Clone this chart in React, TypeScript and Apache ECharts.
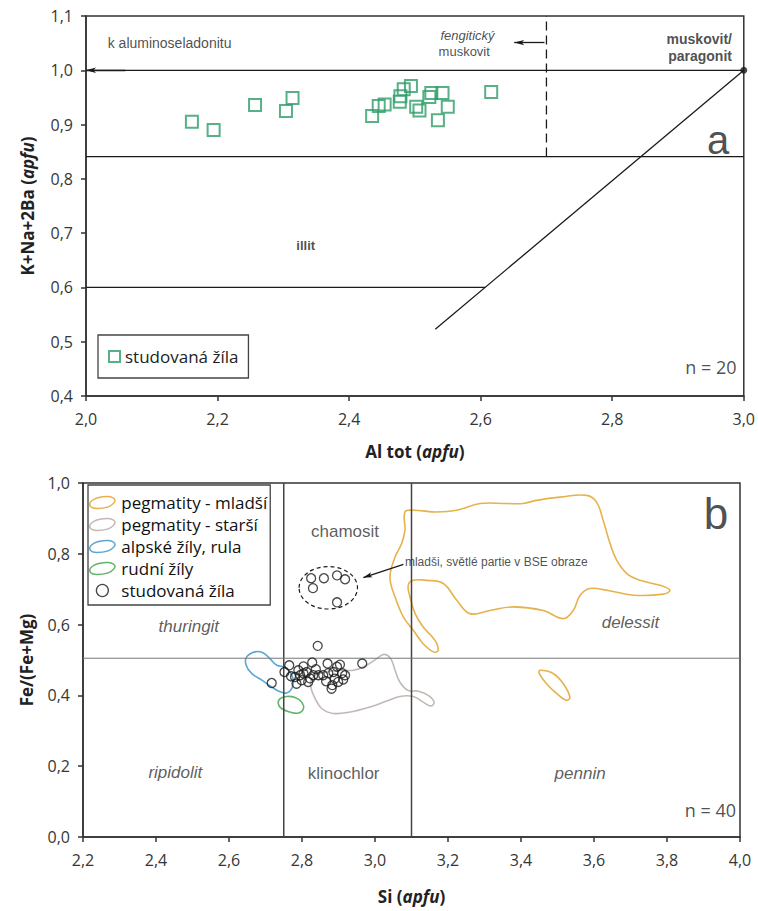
import React, { useEffect, useRef } from 'react';
import * as echarts from 'echarts';

// ---------- Panel a: K+Na+2Ba vs Al tot (white mica) ----------
const alTot = [2.161, 2.194, 2.257, 2.304, 2.314, 2.435, 2.445, 2.454, 2.478, 2.483, 2.494, 2.477, 2.502, 2.507, 2.522, 2.525, 2.542, 2.55, 2.535, 2.616];
const kNa2Ba = [0.905, 0.89, 0.936, 0.925, 0.949, 0.916, 0.934, 0.937, 0.952, 0.965, 0.971, 0.942, 0.933, 0.926, 0.951, 0.958, 0.958, 0.933, 0.908, 0.96];

// ---------- Panel b: Fe/(Fe+Mg) vs Si (chlorite) ----------
const siVein = [
  2.825, 2.83, 2.86, 2.896, 2.918, 2.896,
  2.843, 2.717, 2.752, 2.765, 2.804, 2.828, 2.87, 2.904, 2.965, 2.781, 2.785, 2.804, 2.817, 2.813,
  2.831, 2.845, 2.858, 2.872, 2.886, 2.89, 2.883, 2.899, 2.91, 2.913, 2.881, 2.799, 2.79, 2.77,
  2.822, 2.896, 2.918, 2.838, 2.866, 2.795,
];
const feVein = [
  0.731, 0.703, 0.731, 0.739, 0.728, 0.663,
  0.54, 0.435, 0.466, 0.485, 0.482, 0.493, 0.49, 0.487, 0.49, 0.452, 0.433, 0.462, 0.438, 0.466,
  0.457, 0.457, 0.457, 0.463, 0.466, 0.447, 0.429, 0.438, 0.463, 0.445, 0.419, 0.443, 0.471, 0.454,
  0.448, 0.481, 0.457, 0.474, 0.44, 0.457,
];

const pegYoungMain: number[][] = [
  [3.082, 0.918], [3.105, 0.923], [3.169, 0.918], [3.224, 0.923], [3.288, 0.942], [3.361, 0.942],
  [3.405, 0.942], [3.443, 0.951], [3.507, 0.96], [3.58, 0.965], [3.607, 0.946], [3.625, 0.895],
  [3.644, 0.829], [3.662, 0.782], [3.69, 0.744], [3.726, 0.725], [3.781, 0.711], [3.808, 0.697],
  [3.79, 0.686], [3.708, 0.683], [3.635, 0.697], [3.589, 0.702], [3.562, 0.683], [3.543, 0.64],
  [3.516, 0.617], [3.461, 0.64], [3.379, 0.65], [3.315, 0.64], [3.26, 0.631], [3.224, 0.669],
  [3.187, 0.716], [3.142, 0.725], [3.105, 0.725], [3.091, 0.711], [3.096, 0.678], [3.11, 0.631],
  [3.132, 0.593], [3.164, 0.556], [3.173, 0.527], [3.16, 0.523], [3.132, 0.546], [3.105, 0.584],
  [3.078, 0.621], [3.055, 0.678], [3.041, 0.734], [3.055, 0.791], [3.073, 0.829], [3.082, 0.866],
];
const pegYoungSmall: number[][] = [
  [3.452, 0.471], [3.488, 0.462], [3.516, 0.433], [3.534, 0.395], [3.525, 0.386], [3.498, 0.405],
  [3.47, 0.433], [3.45, 0.462],
];
const pegOld: number[][] = [
  [2.827, 0.447], [2.849, 0.462], [2.904, 0.471], [2.941, 0.471], [2.977, 0.485], [3.005, 0.504],
  [3.025, 0.516], [3.043, 0.504], [3.055, 0.471], [3.068, 0.438], [3.091, 0.414], [3.119, 0.412],
  [3.146, 0.4], [3.162, 0.381], [3.153, 0.37], [3.132, 0.381], [3.105, 0.397], [3.068, 0.397],
  [3.032, 0.384], [2.986, 0.367], [2.932, 0.353], [2.886, 0.349], [2.854, 0.363], [2.836, 0.391],
  [2.824, 0.424],
];
const alpine: number[][] = [
  [2.648, 0.508], [2.671, 0.523], [2.694, 0.52], [2.712, 0.504], [2.731, 0.485], [2.753, 0.48],
  [2.767, 0.466], [2.776, 0.443], [2.772, 0.419], [2.758, 0.407], [2.74, 0.41], [2.717, 0.424],
  [2.69, 0.443], [2.662, 0.462], [2.647, 0.485],
];
const oreVeins: number[][] = [
  [2.74, 0.391], [2.758, 0.397], [2.781, 0.394], [2.799, 0.381], [2.804, 0.363], [2.79, 0.35],
  [2.767, 0.353], [2.744, 0.363], [2.735, 0.377],
];
// dashed ellipse: centre x, centre y, half-width, half-height (data units)
const youngEllipse = [[2.872, 0.704, 0.08, 0.06]];

const GREEN = '#2e9c68';
const ORANGE = '#e6b24c';
const GRAY = '#c2b9b5';
const BLUE = '#5ba6d4';
const LGREEN = '#62b567';
const INK = '#1a1a1a';

const TICK_FONT = '"Open Sans", "Noto Sans", sans-serif';
const NOTE_FONT = '"Liberation Sans", Arial, sans-serif';

const fmt = (v: number) => v.toFixed(1).replace('.', ',');

const ELLIPSE_ICON = 'path://M3,11 C0,7 6,2 16,1 C25,0 30,3 27,7 C24,11 16,13 9,13 C6,13 4,12 3,11 Z';

function axisBase(gridIndex: number, labelMargin: number) {
  return {
    gridIndex,
    type: 'value',
    axisLine: { show: true, onZero: false, lineStyle: { color: '#333', width: 1.5 } },
    axisTick: { show: true, inside: false, length: 5, lineStyle: { color: '#333', width: 1.5 } },
    axisLabel: { formatter: fmt, fontSize: 16, color: '#363636', fontFamily: TICK_FONT, margin: labelMargin },
    splitLine: { show: false },
    nameLocation: 'middle',
    nameTextStyle: {
      rich: {
        b: { fontWeight: 'bold', fontSize: 17, fontFamily: TICK_FONT, color: '#222' },
        i: { fontWeight: 'bold', fontStyle: 'italic', fontSize: 17, fontFamily: TICK_FONT, color: '#222' },
      },
    },
  };
}

function seg(name: string, xi: number, pts: number[][], extra: any = {}) {
  return {
    type: 'line',
    name,
    xAxisIndex: xi,
    yAxisIndex: xi,
    data: pts,
    symbol: 'none',
    silent: true,
    lineStyle: { color: INK, width: 1.3, ...(extra.lineStyle || {}) },
    ...(extra.markLine ? { markLine: extra.markLine } : {}),
    z: 3,
  };
}

function arrowML(pairs: number[][][], size = 10) {
  return {
    silent: true,
    symbol: ['none', 'arrow'],
    symbolSize: [4, size],
    label: { show: false },
    lineStyle: { color: INK, width: 1.3, type: 'solid' },
    emphasis: { disabled: true },
    data: pairs.map((p) => [{ coord: p[0] }, { coord: p[1] }]),
  };
}

function contour(name: string, pts: number[][], color: string) {
  return {
    type: 'custom',
    name,
    xAxisIndex: 1,
    yAxisIndex: 1,
    silent: true,
    data: pts,
    itemStyle: { color },
    renderItem: (params: any, api: any) => {
      if (params.dataIndex !== 0) return null;
      const points = pts.map((p) => api.coord(p));
      return {
        type: 'polygon',
        shape: { points, smooth: 0.4 },
        style: { fill: 'none', stroke: color, lineWidth: 1.6 },
      };
    },
    z: 2,
  };
}

function note(x: number, y: number, text: string, style: any) {
  return {
    value: [x, y],
    label: {
      show: true,
      position: 'inside',
      formatter: text,
      fontFamily: NOTE_FONT,
      color: '#222',
      fontSize: 14,
      align: 'center',
      verticalAlign: 'middle',
      ...style,
    },
  };
}

function notes(xi: number, items: any[]) {
  return {
    type: 'scatter',
    name: 'notes' + xi,
    xAxisIndex: xi,
    yAxisIndex: xi,
    symbol: 'circle',
    symbolSize: 1,
    itemStyle: { color: 'rgba(0,0,0,0)' },
    silent: true,
    clip: false,
    data: items,
    z: 4,
  };
}

function buildOption() {
  const topPts = alTot.map((x, i) => [x, kNa2Ba[i]]);
  const botPts = siVein.map((x, i) => [x, feVein[i]]);
  return {
    animation: false,
    backgroundColor: '#fff',
    grid: [
      { left: 86, top: 16, width: 659, height: 380, show: true, borderColor: '#333', borderWidth: 1.5 },
      { left: 83, top: 483, width: 657, height: 354, show: true, borderColor: '#333', borderWidth: 1.5 },
    ],
    xAxis: [
      { ...axisBase(0, 15), min: 2.0, max: 3.0, interval: 0.2, name: '{b|Al tot (}{i|apfu}{b|)}', nameGap: 47 },
      { ...axisBase(1, 15), min: 2.2, max: 4.0, interval: 0.2, name: '{b|Si (}{i|apfu}{b|)}', nameGap: 51 },
    ],
    yAxis: [
      { ...axisBase(0, 13), min: 0.4, max: 1.1, interval: 0.1, name: '{b|K+Na+2Ba (}{i|apfu}{b|)}', nameGap: 50 },
      { ...axisBase(1, 13), min: 0.0, max: 1.0, interval: 0.2, name: '{b|Fe/(Fe+Mg)}', nameGap: 48 },
    ],
    legend: [
      {
        left: 98,
        top: 335,
        orient: 'vertical',
        selectedMode: false,
        backgroundColor: '#fff',
        borderColor: '#444',
        borderWidth: 1.3,
        padding: [13, 10, 13, 10],
        itemWidth: 11,
        itemHeight: 11,
        textStyle: { fontSize: 17, fontFamily: TICK_FONT, color: '#222' },
        data: [
          { name: 'studovaná žíla', icon: 'rect', itemStyle: { color: 'rgba(0,0,0,0)', borderColor: GREEN, borderWidth: 2 } },
        ],
      },
      {
        left: 88,
        top: 485,
        orient: 'vertical',
        selectedMode: false,
        backgroundColor: '#fff',
        borderColor: '#444',
        borderWidth: 1.3,
        padding: [9, 3, 6, 1],
        itemGap: 5,
        itemWidth: 28,
        itemHeight: 12,
        textStyle: { fontSize: 17, fontFamily: TICK_FONT, color: '#111' },
        data: [
          { name: 'pegmatity - mladší', icon: ELLIPSE_ICON, itemStyle: { color: 'rgba(0,0,0,0)', borderColor: ORANGE, borderWidth: 1.5 } },
          { name: 'pegmatity - starší', icon: ELLIPSE_ICON, itemStyle: { color: 'rgba(0,0,0,0)', borderColor: GRAY, borderWidth: 1.5 } },
          { name: 'alpské žíly, rula', icon: ELLIPSE_ICON, itemStyle: { color: 'rgba(0,0,0,0)', borderColor: BLUE, borderWidth: 1.5 } },
          { name: 'rudní žíly', icon: ELLIPSE_ICON, itemStyle: { color: 'rgba(0,0,0,0)', borderColor: LGREEN, borderWidth: 1.5 } },
          { name: 'studovaná žíla', icon: 'circle', itemStyle: { color: 'rgba(0,0,0,0)', borderColor: INK, borderWidth: 1.3 } },
        ],
      },
    ],
    series: [
      // ---- panel a guides
      seg('line10', 0, [[2.0, 1.0], [3.0, 1.0]], { markLine: arrowML([[[2.06, 1.0], [2.0, 1.0]], [[2.697, 1.051], [2.651, 1.051]]], 10) }),
      seg('line084', 0, [[2.0, 0.841], [3.0, 0.841]]),
      seg('line06', 0, [[2.0, 0.6], [2.607, 0.6]]),
      seg('diag', 0, [[2.531, 0.523], [3.0, 1.0]]),
      seg('fengit', 0, [[2.7, 0.841], [2.7, 1.1]], { lineStyle: { type: [9, 5], width: 1.3 } }),
      {
        type: 'scatter', name: 'endpoint', xAxisIndex: 0, yAxisIndex: 0, clip: false, silent: true,
        data: [[3.0, 1.0]], symbol: 'circle', symbolSize: 7, itemStyle: { color: INK }, z: 5,
      },
      {
        type: 'scatter', name: 'studovaná žíla', xAxisIndex: 0, yAxisIndex: 0, data: topPts,
        symbol: 'rect', symbolSize: 12,
        itemStyle: { color: 'rgba(0,0,0,0)', borderColor: GREEN, borderWidth: 2 }, z: 6,
      },
      notes(0, [
        note(2.033, 1.05, 'k aluminoseladonitu', { align: 'left', fontSize: 14 }),
        note(2.58, 1.065, 'fengitický', { fontStyle: 'italic', fontSize: 13 }),
        note(2.575, 1.034, 'muskovit', { fontSize: 13 }),
        note(2.982, 1.058, 'muskovit/', { align: 'right', fontWeight: 'bold', fontSize: 14 }),
        note(2.982, 1.026, 'paragonit', { align: 'right', fontWeight: 'bold', fontSize: 14 }),
        note(2.334, 0.678, 'illit', { fontWeight: 'bold', fontSize: 13 }),
        note(2.961, 0.872, 'a', { fontSize: 40, color: '#222' }),
        note(2.989, 0.453, 'n = 20', { align: 'right', fontSize: 18, fontFamily: TICK_FONT }),
      ]),
      // ---- panel b guides
      seg('v275', 1, [[2.75, 0.0], [2.75, 1.0]], { lineStyle: { color: '#444', width: 1.5 } }),
      seg('v31', 1, [[3.1, 0.0], [3.1, 1.0]], { lineStyle: { color: '#444', width: 1.5 } }),
      seg('h05', 1, [[2.2, 0.505], [4.0, 0.505]], {
        lineStyle: { color: '#777', width: 1 },
        markLine: arrowML([[[3.078, 0.77], [2.968, 0.733]]], 9),
      }),
      contour('pegmatity - mladší', pegYoungMain, ORANGE),
      contour('pegmatity - mladší', pegYoungSmall, ORANGE),
      contour('pegmatity - starší', pegOld, GRAY),
      contour('alpské žíly, rula', alpine, BLUE),
      contour('rudní žíly', oreVeins, LGREEN),
      {
        type: 'custom', name: 'ellipse', xAxisIndex: 1, yAxisIndex: 1, silent: true, data: youngEllipse,
        renderItem: (params: any, api: any) => {
          const c = api.coord([api.value(0), api.value(1)]);
          const s = api.size([api.value(2), api.value(3)]);
          return {
            type: 'ellipse',
            shape: { cx: c[0], cy: c[1], rx: s[0], ry: s[1] },
            style: { fill: 'none', stroke: INK, lineWidth: 1.2, lineDash: [4, 3] },
          };
        },
        z: 3,
      },
      {
        type: 'scatter', name: 'studovaná žíla', xAxisIndex: 1, yAxisIndex: 1, data: botPts,
        symbol: 'circle', symbolSize: 9,
        itemStyle: { color: 'rgba(0,0,0,0)', borderColor: INK, borderWidth: 1.3 }, z: 6,
      },
      notes(1, [
        note(2.918, 0.864, 'chamosit', { fontSize: 17, color: '#333' }),
        note(2.49, 0.595, 'thuringit', { fontSize: 17, fontStyle: 'italic', color: '#333' }),
        note(3.7, 0.607, 'delessit', { fontSize: 17, fontStyle: 'italic', color: '#333' }),
        note(2.453, 0.181, 'ripidolit', { fontSize: 17, fontStyle: 'italic', color: '#333' }),
        note(2.914, 0.18, 'klinochlor', { fontSize: 17, color: '#333' }),
        note(3.562, 0.18, 'pennin', { fontSize: 17, fontStyle: 'italic', color: '#333' }),
        note(3.934, 0.914, 'b', { fontSize: 44, color: '#222' }),
        note(3.989, 0.075, 'n = 40', { align: 'right', fontSize: 18, fontFamily: TICK_FONT }),
        note(3.082, 0.777, 'mladši, světlé partie v BSE obraze', { align: 'left', fontSize: 12 }),
      ]),
    ],
  };
}

export default function App() {
  const ref = useRef<HTMLDivElement>(null);
  useEffect(() => {
    document.body.style.margin = '0';
    const chart = echarts.init(ref.current as HTMLDivElement, null, { renderer: 'svg' });
    chart.setOption(buildOption() as any);
    return () => chart.dispose();
  }, []);
  return <div ref={ref} style={{ width: 758, height: 911, background: '#fff' }} />;
}
